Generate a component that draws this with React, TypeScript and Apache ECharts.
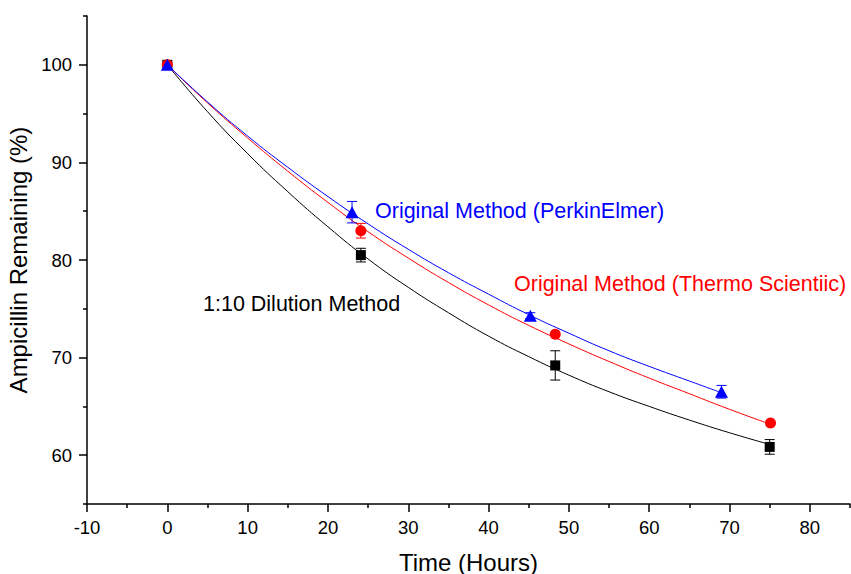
import React, { useEffect, useRef } from "react";
import * as echarts from "echarts";

const FONT = 'Arial, "Liberation Sans", Helvetica, sans-serif';

// Fitted first-order decay curves (time in hours, % ampicillin remaining)
const fitHours = [0, 5, 10, 15, 20, 25, 30, 35, 40, 45, 50, 55, 60, 65, 70, 75];
const dilutionFit = [100, 95.2, 90.9, 87.0, 83.4, 80.1, 77.2, 74.6, 72.2, 70.1, 68.2, 66.5, 65.0, 63.6, 62.3, 61.1];
const thermoFit = [100, 96.1, 92.5, 89.1, 85.9, 82.9, 80.2, 77.7, 75.4, 73.3, 71.4, 69.6, 67.9, 66.3, 64.7, 63.2];
const perkinFitHours = [0, 5, 10, 15, 20, 25, 30, 35, 40, 45, 50, 55, 60, 65, 69];
const perkinFit = [100, 96.2, 92.7, 89.5, 86.5, 83.7, 81.1, 78.7, 76.5, 74.4, 72.5, 70.7, 69.1, 67.6, 66.4];

// Measured means and standard deviations
const dilutionHours = [0, 24.1, 48.3, 75.0];
const dilutionMean = [100, 80.5, 69.2, 60.85];
const dilutionErr = [0, 0.7, 1.5, 0.75];

const thermoHours = [0, 24.1, 48.3, 75.1];
const thermoMean = [100, 83.0, 72.4, 63.3];
const thermoErr = [0, 0.75, 0, 0];

const perkinHours = [0, 23.0, 45.2, 69.0];
const perkinMean = [100, 84.9, 74.3, 66.5];
const perkinErr = [0, 1.1, 0.3, 0.65];

// Axis ticks
const xMajorTicks = [-10, 0, 10, 20, 30, 40, 50, 60, 70, 80];
const xMinorTicks = [-5, 5, 15, 25, 35, 45, 55, 65, 75, 85];
const yMajorTicks = [60, 70, 80, 90, 100];
const yMinorTicks = [55, 65, 75, 85, 95, 105];

const BLACK = "#000000";
const RED = "#ff0000";
const BLUE = "#0000ff";

const pairs = (xs: number[], ys: number[]) => xs.map((x, i) => [x, ys[i]]);
const triples = (xs: number[], ys: number[], es: number[]) =>
  xs.map((x, i) => [x, ys[i], es[i]]).filter((d) => d[2] > 0);

function errorBars(data: number[][], color: string) {
  return {
    type: "custom",
    z: 3,
    xAxisIndex: 0,
    yAxisIndex: 0,
    encode: { x: 0, y: 1 },
    data,
    renderItem: (_params: any, api: any) => {
      const x = api.value(0);
      const y = api.value(1);
      const e = api.value(2);
      const top = api.coord([x, y + e]);
      const bot = api.coord([x, y - e]);
      const hw = 5;
      const style = { stroke: color, lineWidth: 1 };
      return {
        type: "group",
        children: [
          { type: "line", shape: { x1: top[0], y1: top[1], x2: bot[0], y2: bot[1] }, style },
          { type: "line", shape: { x1: top[0] - hw, y1: top[1], x2: top[0] + hw, y2: top[1] }, style },
          { type: "line", shape: { x1: bot[0] - hw, y1: bot[1], x2: bot[0] + hw, y2: bot[1] }, style },
        ],
      };
    },
  };
}

function fitLine(data: number[][], color: string) {
  return {
    type: "line",
    z: 2,
    data,
    smooth: true,
    symbol: "none",
    lineStyle: { color, width: 1 },
    silent: true,
  };
}

function markers(data: number[][], color: string, symbol: string, size: any) {
  return {
    type: "scatter",
    z: 4,
    data,
    symbol,
    symbolSize: size,
    itemStyle: { color, opacity: 1 },
  };
}

export default function App() {
  const ref = useRef<HTMLDivElement>(null);

  useEffect(() => {
    document.body.style.margin = "0";
    if (!ref.current) return;
    const chart = echarts.init(ref.current, undefined, { renderer: "svg" });

    const axisLine = { show: true, onZero: false, lineStyle: { color: BLACK, width: 1.5 } };
    const noLine = { show: false, onZero: false };
    const tickStyle = { color: BLACK, width: 1.5 };
    const labelStyle = { color: BLACK, fontFamily: FONT, fontSize: 18.5 };

    chart.setOption({
      animation: false,
      backgroundColor: "#ffffff",
      grid: { left: 87, right: 1, top: 16, bottom: 70, containLabel: false, outerBoundsMode: "none" },
      xAxis: [
        {
          type: "value",
          min: -10,
          max: 85,
          position: "bottom",
          axisLine,
          axisTick: { show: true, length: 8, customValues: xMajorTicks, lineStyle: tickStyle },
          axisLabel: { ...labelStyle, margin: 14, customValues: xMajorTicks },
          splitLine: { show: false },
          name: "Time (Hours)",
          nameLocation: "middle",
          nameGap: 46,
          nameTextStyle: { color: BLACK, fontFamily: FONT, fontSize: 24 },
        },
        {
          type: "value",
          min: -10,
          max: 85,
          position: "bottom",
          axisLine: noLine,
          axisTick: { show: true, length: 4, customValues: xMinorTicks, lineStyle: tickStyle },
          axisLabel: { show: false },
          splitLine: { show: false },
        },
      ],
      yAxis: [
        {
          type: "value",
          min: 55,
          max: 105,
          position: "left",
          axisLine,
          axisTick: { show: true, length: 8, customValues: yMajorTicks, lineStyle: tickStyle },
          axisLabel: { ...labelStyle, margin: 15, customValues: yMajorTicks },
          splitLine: { show: false },
          name: "Ampicillin Remaining (%)",
          nameLocation: "middle",
          nameGap: 50,
          nameTextStyle: { color: BLACK, fontFamily: FONT, fontSize: 24 },
        },
        {
          type: "value",
          min: 55,
          max: 105,
          position: "left",
          axisLine: noLine,
          axisTick: { show: true, length: 4, customValues: yMinorTicks, lineStyle: tickStyle },
          axisLabel: { show: false },
          splitLine: { show: false },
        },
      ],
      series: [
        fitLine(pairs(fitHours, dilutionFit), BLACK),
        fitLine(pairs(fitHours, thermoFit), RED),
        fitLine(pairs(perkinFitHours, perkinFit), BLUE),
        errorBars(triples(dilutionHours, dilutionMean, dilutionErr), BLACK),
        errorBars(triples(thermoHours, thermoMean, thermoErr), RED),
        errorBars(triples(perkinHours, perkinMean, perkinErr), BLUE),
        markers(pairs(dilutionHours, dilutionMean), BLACK, "rect", 10),
        markers(pairs(thermoHours, thermoMean), RED, "circle", 11),
        markers(pairs(perkinHours, perkinMean), BLUE, "triangle", [13, 12]),
      ],
      graphic: [
        {
          type: "text",
          x: 375,
          y: 211,
          style: { text: "Original Method (PerkinElmer)", fill: BLUE, font: `21.5px ${FONT}`, verticalAlign: "middle" },
        },
        {
          type: "text",
          x: 514,
          y: 284,
          style: { text: "Original Method (Thermo Scientiic)", fill: RED, font: `21.5px ${FONT}`, verticalAlign: "middle" },
        },
        {
          type: "text",
          x: 203,
          y: 304,
          style: { text: "1:10 Dilution Method", fill: BLACK, font: `21.5px ${FONT}`, verticalAlign: "middle" },
        },
      ],
    });

    return () => chart.dispose();
  }, []);

  return <div ref={ref} style={{ width: 851, height: 574 }} />;
}
